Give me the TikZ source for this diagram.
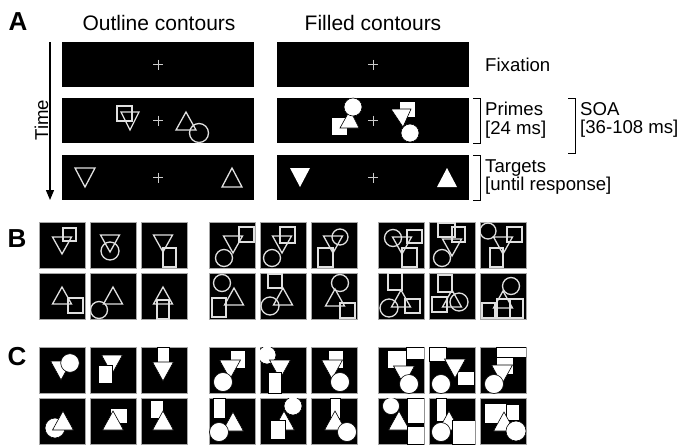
\documentclass[tikz,border=0pt]{standalone}
\usepackage{fontspec}
\setmainfont{Liberation Sans}
\usetikzlibrary{arrows.meta}
\tikzset{
    screen/.style={fill=black},
    stim box/.style={fill=black, draw=black!35, line width=0.4pt},
    fix cross/.style={draw=black!20, line width=0.7pt},
    outline shape/.style={draw=black!12, line width=1.3pt},
    filled shape/.style={fill=white, draw=black, line width=0.6pt},
    panel letter/.style={font=\fontsize{26}{26}\selectfont\bfseries},
    column title/.style={font=\fontsize{21}{21}\selectfont},
    side label/.style={
        font=\fontsize{18.6}{18.5}\selectfont,
        align=left, anchor=west, inner sep=0pt
    },
    bracket/.style={draw=black, line width=0.9pt},
    time arrow/.style={
        draw=black, line width=1.2pt,
        -{Triangle[width=8pt,length=10pt]}
    }
}
\newcommand\trdown[2]{(#1-9.5,#2) -- (#1+9.5,#2) -- (#1,#2+17) -- cycle}
\newcommand\trup[2]{(#1,#2) -- (#1+9.5,#2+17) -- (#1-9.5,#2+17) -- cycle}
\newcommand\bigtrdown[2]{(#1-10.5,#2) -- (#1+10.5,#2) -- (#1,#2+19) -- cycle}
\newcommand\bigtrup[2]{(#1,#2) -- (#1+10.5,#2+19) -- (#1-10.5,#2+19) -- cycle}
\newcommand\stimat[3]{\begin{scope}[shift={(#1,#2)}]
    \clip (0,0) rectangle (46,46);
    #3
\end{scope}}

\begin{document}
\begin{tikzpicture}[x=1pt, y=-1pt]
    \useasboundingbox (0,0) rectangle (682,445);

    % panel A
    \node[panel letter] (letter A) at (18,22) {A};
    \node[column title] (outline title) at (159,23) {Outline contours};
    \node[column title] (filled title) at (373,23) {Filled contours};

    \foreach \sx in {62,277}{
        \foreach \sy in {42,98,155}{
            \fill[screen] (\sx,\sy) rectangle +(192,45);
            \draw[fix cross] (\sx+96,\sy+22.5) +(-5,0) -- +(5,0) +(0,-5) -- +(0,5);
        }
    }

    \coordinate (time start) at (50,42);
    \coordinate (time end) at (50,200);
    \draw[time arrow] (time start) -- (time end);
    \node[rotate=90, font=\fontsize{18.6}{18.6}\selectfont] (time label) at (41.5,120) {Time};

    % outline primes and targets
    \draw[outline shape] (117,106) rectangle (132,121);
    \draw[outline shape] (121,112) -- (139,112) -- (130,130) -- cycle;
    \draw[outline shape] (186,112) -- (196,130) -- (176,130) -- cycle;
    \draw[outline shape] (199,133) circle[radius=9.5];
    \draw[outline shape] (75,168) -- (95,168) -- (85,187) -- cycle;
    \draw[outline shape] (232,168) -- (242,187) -- (222,187) -- cycle;

    % filled primes and targets
    \filldraw[filled shape] (331,117) rectangle (347,135);
    \filldraw[filled shape] (350,110) -- (359,128) -- (340,128) -- cycle;
    \filldraw[filled shape] (353,107) circle[radius=9];
    \filldraw[filled shape] (399,101) rectangle (415,117);
    \filldraw[filled shape] (391,109) -- (411,109) -- (403,127) -- cycle;
    \filldraw[filled shape] (410,133) circle[radius=9];
    \fill[white] (290,168) -- (310,168) -- (300,187) -- cycle;
    \fill[white] (447,168) -- (457,187) -- (437,187) -- cycle;

    % labels and brackets
    \node[side label] (fixation) at (485,65) {Fixation};
    \coordinate (primes top) at (473,98);
    \coordinate (primes bottom) at (473,143);
    \draw[bracket] (primes top) -- ++(7,0) |- (primes bottom);
    \node[side label] (primes) at (485,120) {Primes\\{[24 ms]}};
    \coordinate (soa top) at (568,98);
    \coordinate (soa bottom) at (568,153);
    \draw[bracket] (soa top) -- ++(7,0) |- (soa bottom);
    \node[side label] (soa) at (580,120) {SOA\\{[36-108 ms]}};
    \coordinate (targets top) at (473,155);
    \coordinate (targets bottom) at (473,200);
    \draw[bracket] (targets top) -- ++(7,0) |- (targets bottom);
    \node[side label] (targets) at (485,177) {Targets\\{[until response]}};

    % panels B and C
    \node[panel letter] (letter B) at (17,239) {B};
    \node[panel letter] (letter C) at (17,357) {C};
    \foreach \gx in {39,209,378}{
        \foreach \i in {0,1,2}{
            \foreach \gy in {222,273,347,398}{
                \filldraw[stim box] (\gx+51*\i,\gy) rectangle +(46,46);
            }
        }
    }

    % B, first group
    \stimat{39}{222}{\draw[outline shape] \trdown{23}{15}; \draw[outline shape] (24,6) rectangle (37,19);}
    \stimat{90}{222}{\draw[outline shape] \trdown{20}{13}; \draw[outline shape] (20,29) circle[radius=9];}
    \stimat{141}{222}{\draw[outline shape] \trdown{22}{13}; \draw[outline shape] (22,26) rectangle (35,45);}
    \stimat{39}{273}{\draw[outline shape] \trup{23}{14}; \draw[outline shape] (29,25) rectangle (44,40);}
    \stimat{90}{273}{\draw[outline shape] \trup{23}{14}; \draw[outline shape] (9,37) circle[radius=8.5];}
    \stimat{141}{273}{\draw[outline shape] \trup{22}{14}; \draw[outline shape] (16,27) rectangle (28,46);}
    % B, second group
    \stimat{209}{222}{\draw[outline shape] (30,5) rectangle (45,20); \draw[outline shape] \trdown{24}{14};
        \draw[outline shape] (15,36) circle[radius=8.5];}
    \stimat{260}{222}{\draw[outline shape] (20,5) rectangle (35,21); \draw[outline shape] \trdown{22}{14};
        \draw[outline shape] (12,36) circle[radius=8.5];}
    \stimat{311}{222}{\draw[outline shape] (29,15) circle[radius=8]; \draw[outline shape] \trdown{22}{14};
        \draw[outline shape] (7,26) rectangle (22,45);}
    \stimat{209}{273}{\draw[outline shape] (13,10) circle[radius=8.5]; \draw[outline shape] \trup{25}{15};
        \draw[outline shape] (3,25) rectangle (17,44);}
    \stimat{260}{273}{\draw[outline shape] (8,1) rectangle (22,15); \draw[outline shape] \trup{23}{15};
        \draw[outline shape] (10,33) circle[radius=9];}
    \stimat{311}{273}{\draw[outline shape] (29,10) circle[radius=8.5]; \draw[outline shape] \trup{24}{16};
        \draw[outline shape] (29,30) rectangle (44,45);}
    % B, third group
    \stimat{378}{222}{\draw[outline shape] (15,16) circle[radius=8.5]; \draw[outline shape] (29,8) rectangle (44,21);
        \draw[outline shape] \trdown{24}{15}; \draw[outline shape] (24,26) rectangle (39,45);}
    \stimat{429}{222}{\draw[outline shape] (9,1) rectangle (26,15); \draw[outline shape] (23,5) rectangle (36,20);
        \draw[outline shape] \trdown{23}{17}; \draw[outline shape] (13,36) circle[radius=8.5];}
    \stimat{480}{222}{\draw[outline shape] (8,9) circle[radius=8]; \draw[outline shape] (27,5) rectangle (42,20);
        \draw[outline shape] \trdown{23}{15}; \draw[outline shape] (10,26) rectangle (23,45);}
    \stimat{378}{273}{\draw[outline shape] (10,0) rectangle (24,17); \draw[outline shape] \trup{23}{17};
        \draw[outline shape] (11,35) circle[radius=9]; \draw[outline shape] (27,26) rectangle (42,40);}
    \stimat{429}{273}{\draw[outline shape] (9,2) rectangle (23,19); \draw[outline shape] \trup{23}{17};
        \draw[outline shape] (3,24) rectangle (18,39); \draw[outline shape] (30,29) circle[radius=9];}
    \stimat{480}{273}{\draw[outline shape] (31,13) circle[radius=8.5]; \draw[outline shape] \trup{23}{18};
        \draw[outline shape] (2,30) rectangle (15,45); \draw[outline shape] (17,26) rectangle (30,45);
        \draw[outline shape] (30,26) rectangle (43,45);}

    % C, first group
    \stimat{39}{347}{\filldraw[filled shape] \bigtrdown{22}{14}; \filldraw[filled shape] (31,16) circle[radius=9.3];}
    \stimat{90}{347}{\filldraw[filled shape] \bigtrdown{22}{8}; \filldraw[filled shape] (8,18) rectangle (22,36);}
    \stimat{141}{347}{\filldraw[filled shape] (16,0) rectangle (28,16); \filldraw[filled shape] \bigtrdown{22}{15};}
    \stimat{39}{398}{\filldraw[filled shape] (16,30) circle[radius=10]; \filldraw[filled shape] \bigtrup{24}{13};}
    \stimat{90}{398}{\filldraw[filled shape] (20,10) rectangle (37,25); \filldraw[filled shape] \bigtrup{23}{13};}
    \stimat{141}{398}{\filldraw[filled shape] (9,2) rectangle (22,20); \filldraw[filled shape] \bigtrup{22}{13};}
    % C, second group
    \stimat{209}{347}{\filldraw[filled shape] (21,3) rectangle (36,21); \filldraw[filled shape] \bigtrdown{21}{13};
        \filldraw[filled shape] (14,35) circle[radius=9.5];}
    \stimat{260}{347}{\filldraw[filled shape] (7,8) circle[radius=9]; \filldraw[filled shape] \bigtrdown{20}{13};
        \filldraw[filled shape] (8,25) rectangle (21,46);}
    \stimat{311}{347}{\filldraw[filled shape] (17,3) rectangle (32,21); \filldraw[filled shape] \bigtrdown{21}{13};
        \filldraw[filled shape] (29,35) circle[radius=9.5];}
    \stimat{209}{398}{\filldraw[filled shape] (4,0) rectangle (16,20); \filldraw[filled shape] \bigtrup{24}{14};
        \filldraw[filled shape] (10,34) circle[radius=9.5];}
    \stimat{260}{398}{\filldraw[filled shape] (33,8) circle[radius=9]; \filldraw[filled shape] \bigtrup{24}{13};
        \filldraw[filled shape] (10,22) rectangle (25,41);}
    \stimat{311}{398}{\filldraw[filled shape] (19,0) rectangle (29,20); \filldraw[filled shape] \bigtrup{24}{13};
        \filldraw[filled shape] (36,34) circle[radius=9.5];}
    % C, third group
    \stimat{378}{347}{\filldraw[filled shape] (9,3) rectangle (28,21); \filldraw[filled shape] (28,0) rectangle (46,12);
        \filldraw[filled shape] \bigtrdown{26}{19}; \filldraw[filled shape] (31,37) circle[radius=9.5];}
    \stimat{429}{347}{\filldraw[filled shape] (0,0) rectangle (17,14); \filldraw[filled shape] (28,24) rectangle (45,38);
        \filldraw[filled shape] \bigtrdown{26}{12}; \filldraw[filled shape] (12,37) circle[radius=9.5];}
    \stimat{480}{347}{\filldraw[filled shape] (16,0) rectangle (46,10); \filldraw[filled shape] (16,10) rectangle (33,27);
        \filldraw[filled shape] \bigtrdown{22}{18}; \filldraw[filled shape] (14,37) circle[radius=9.5];}
    \stimat{378}{398}{\filldraw[filled shape] (13,8) circle[radius=8.5]; \filldraw[filled shape] (29,0) rectangle (46,25);
        \filldraw[filled shape] \bigtrup{21}{13}; \filldraw[filled shape] (29,28) rectangle (46,46);}
    \stimat{429}{398}{\filldraw[filled shape] (7,0) rectangle (17,23); \filldraw[filled shape] \bigtrup{20}{13};
        \filldraw[filled shape] (23,22) rectangle (46,46); \filldraw[filled shape] (12,34) circle[radius=9.5];}
    \stimat{480}{398}{\filldraw[filled shape] (4,5) rectangle (26,25); \filldraw[filled shape] (26,6) rectangle (39,22);
        \filldraw[filled shape] \bigtrup{24}{14}; \filldraw[filled shape] (36,33) circle[radius=10];}
\end{tikzpicture}
\end{document}
